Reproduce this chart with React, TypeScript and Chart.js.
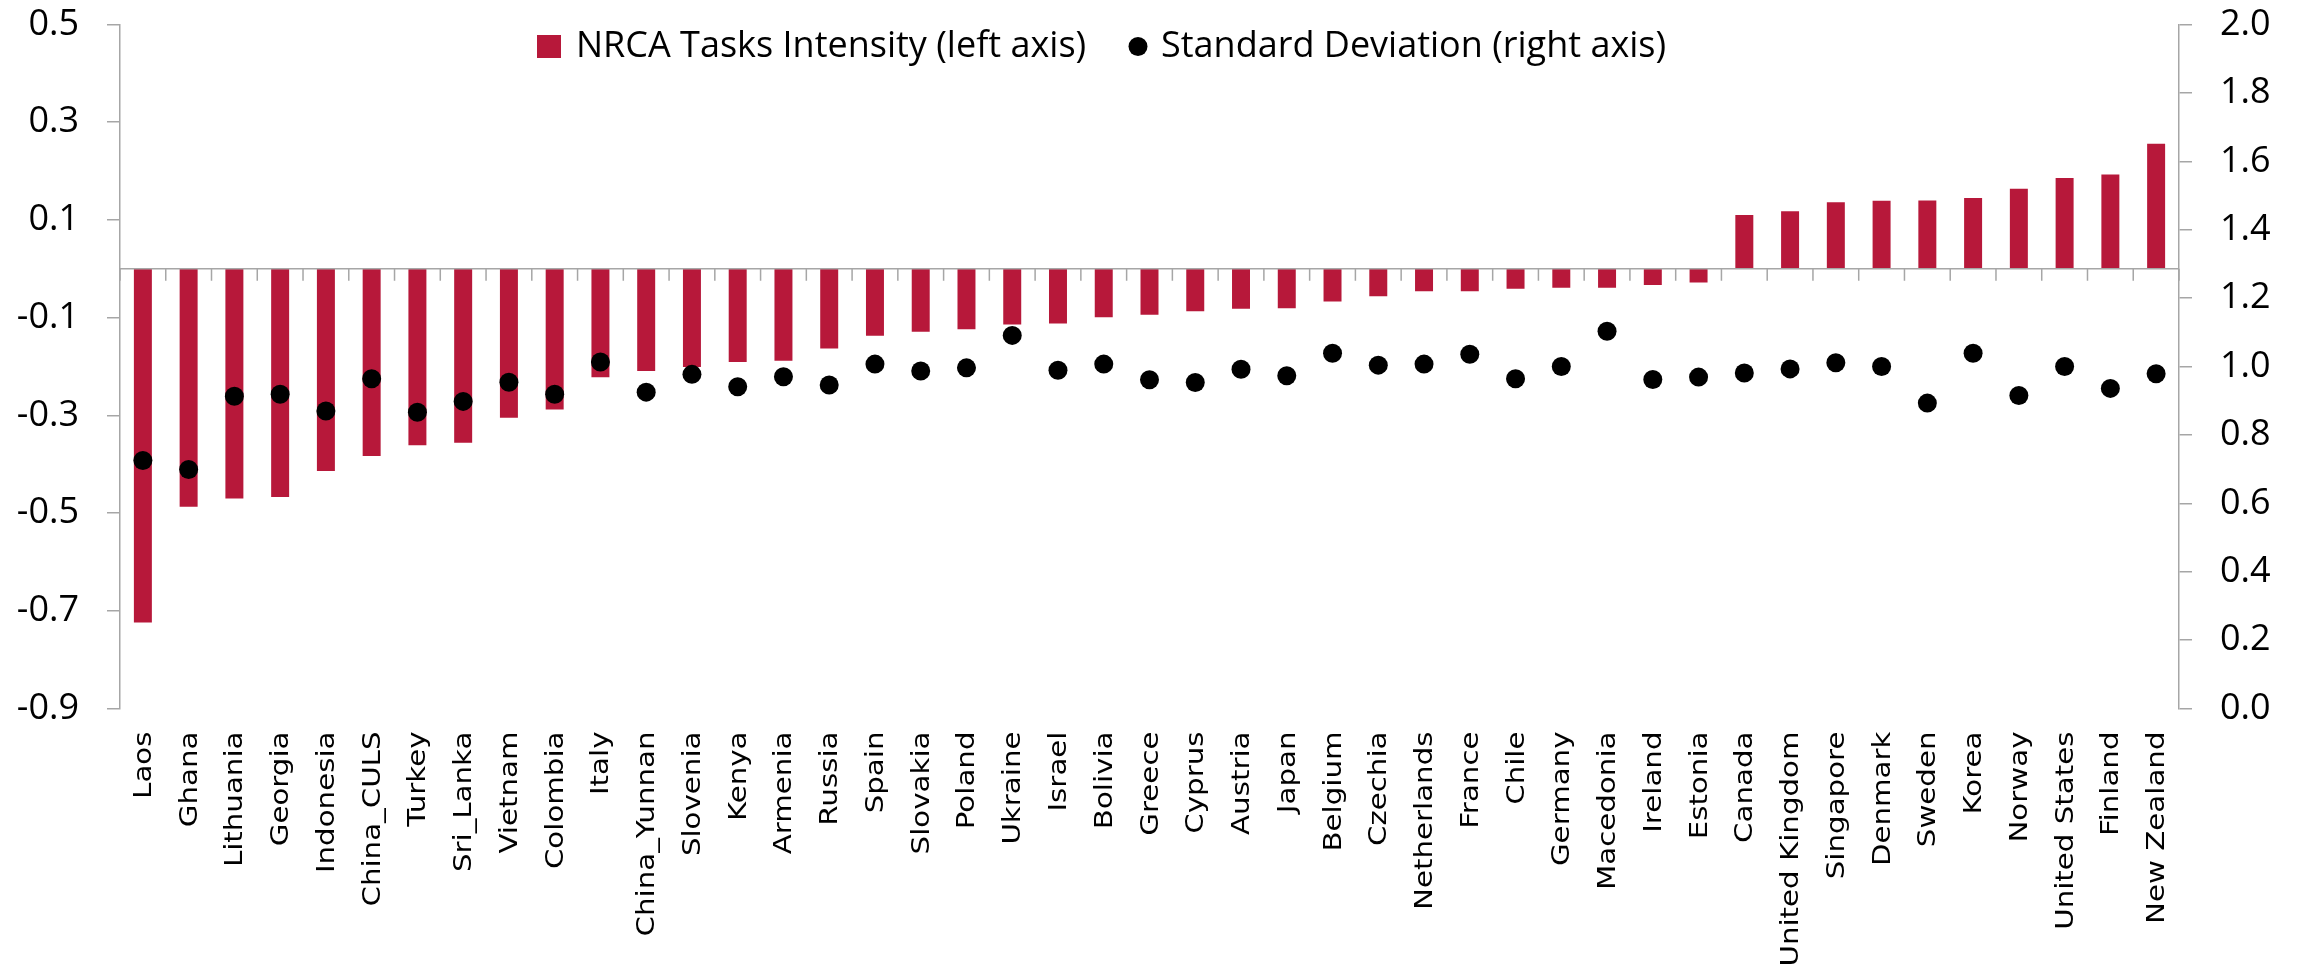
import React, { useEffect, useRef } from 'react';
import { Chart, registerables } from 'chart.js';

Chart.register(...registerables);

const categories = [
  'Laos', 'Ghana', 'Lithuania', 'Georgia', 'Indonesia', 'China_CULS', 'Turkey', 'Sri_Lanka', 'Vietnam',
  'Colombia', 'Italy', 'China_Yunnan', 'Slovenia', 'Kenya', 'Armenia', 'Russia', 'Spain', 'Slovakia',
  'Poland', 'Ukraine', 'Israel', 'Bolivia', 'Greece', 'Cyprus', 'Austria', 'Japan', 'Belgium', 'Czechia',
  'Netherlands', 'France', 'Chile', 'Germany', 'Macedonia', 'Ireland', 'Estonia', 'Canada',
  'United Kingdom', 'Singapore', 'Denmark', 'Sweden', 'Korea', 'Norway', 'United States', 'Finland',
  'New Zealand',
];

const nrcaIntensity = [
  -0.724, -0.487, -0.470, -0.467, -0.414, -0.383, -0.361, -0.356, -0.305, -0.288, -0.222, -0.209,
  -0.201, -0.191, -0.188, -0.163, -0.137, -0.129, -0.124, -0.114, -0.112, -0.099, -0.094, -0.087,
  -0.082, -0.081, -0.067, -0.056, -0.046, -0.046, -0.041, -0.039, -0.039, -0.033, -0.028, 0.110,
  0.118, 0.136, 0.139, 0.140, 0.145, 0.164, 0.186, 0.193, 0.256,
];

const stdDeviation = [
  0.725, 0.699, 0.913, 0.919, 0.870, 0.964, 0.866, 0.898, 0.954, 0.919, 1.013, 0.925, 0.977, 0.941,
  0.970, 0.946, 1.007, 0.987, 0.996, 1.091, 0.989, 1.007, 0.961, 0.953, 0.992, 0.973, 1.039, 1.004,
  1.007, 1.036, 0.964, 1.000, 1.103, 0.962, 0.969, 0.981, 0.993, 1.011, 1.000, 0.893, 1.039, 0.915,
  1.000, 0.936, 0.979,
];

const leftTicks = [-0.9, -0.7, -0.5, -0.3, -0.1, 0.1, 0.3, 0.5];
const rightTicks = [0.0, 0.2, 0.4, 0.6, 0.8, 1.0, 1.2, 1.4, 1.6, 1.8, 2.0];

const seriesLabels = ['NRCA Tasks Intensity (left axis)', 'Standard Deviation (right axis)'];

const W = 2303;
const H = 973;
const BAR_COLOR = '#B7183A';
const AXIS_COLOR = '#A6A6A6';
const TEXT_COLOR = '#000000';
const TICK_FONT = '"Open Sans"';
const LABEL_FONT = '"DejaVu Sans"';

const zeroLinePlugin = {
  id: 'zeroLine',
  afterDatasetsDraw(chart: any) {
    const { ctx, chartArea, scales } = chart;
    const y0 = scales.y.getPixelForValue(0);
    const n = categories.length;
    const step = (chartArea.right - chartArea.left) / n;
    ctx.save();
    ctx.strokeStyle = AXIS_COLOR;
    ctx.lineWidth = 1.5;
    ctx.beginPath();
    ctx.moveTo(chartArea.left, y0);
    ctx.lineTo(chartArea.right, y0);
    for (let i = 0; i <= n; i++) {
      const x = chartArea.left + i * step;
      ctx.moveTo(x, y0);
      ctx.lineTo(x, y0 + 12);
    }
    ctx.stroke();
    ctx.restore();
  },
};

const xLabelPlugin = {
  id: 'xLabels',
  afterDraw(chart: any) {
    const { ctx, chartArea, scales } = chart;
    const labels = chart.data.labels as string[];
    ctx.save();
    ctx.fillStyle = TEXT_COLOR;
    ctx.font = `24px ${LABEL_FONT}`;
    ctx.textAlign = 'right';
    ctx.textBaseline = 'alphabetic';
    const top = chartArea.bottom + 23;
    labels.forEach((lab, i) => {
      const x = scales.x.getPixelForValue(i);
      ctx.save();
      ctx.translate(x + 8, top);
      ctx.rotate(-Math.PI / 2);
      ctx.scale(1.22, 1);
      ctx.fillText(lab, 0, 0);
      ctx.restore();
    });
    ctx.restore();
  },
};

const legendPlugin = {
  id: 'customLegend',
  afterDraw(chart: any) {
    const { ctx } = chart;
    const ds = chart.data.datasets;
    const cy = 46.5;
    ctx.save();
    ctx.font = `36px ${TICK_FONT}`;
    ctx.textBaseline = 'middle';
    ctx.textAlign = 'left';
    ctx.fillStyle = BAR_COLOR;
    ctx.fillRect(537, 35, 24, 23);
    ctx.fillStyle = TEXT_COLOR;
    ctx.fillText(ds[1].label, 576, cy);
    ctx.beginPath();
    ctx.arc(1138, cy, 9.5, 0, Math.PI * 2);
    ctx.fill();
    ctx.fillText(ds[0].label, 1161, cy);
    ctx.restore();
  },
};

export default function App() {
  const ref = useRef<HTMLCanvasElement | null>(null);

  useEffect(() => {
    document.body.style.margin = '0';
    const canvas = ref.current;
    if (!canvas) return;
    const fmt = (v: any) => Number(v).toFixed(1);
    const noPad = (w: number) => (s: any) => {
      s.width = w;
      s.paddingTop = 0;
      s.paddingBottom = 0;
    };
    const tickFont = { family: TICK_FONT, size: 36 };
    const chart = new Chart(canvas, {
      type: 'bar',
      data: {
        labels: categories,
        datasets: [
          {
            type: 'line',
            label: seriesLabels[1],
            data: stdDeviation,
            yAxisID: 'y2',
            showLine: false,
            pointRadius: 9.5,
            pointHoverRadius: 9.5,
            pointBackgroundColor: '#000000',
            pointBorderColor: '#000000',
            pointBorderWidth: 0,
            order: 1,
          } as any,
          {
            type: 'bar',
            label: seriesLabels[0],
            data: nrcaIntensity,
            yAxisID: 'y',
            backgroundColor: BAR_COLOR,
            barPercentage: 0.393,
            categoryPercentage: 1,
            order: 2,
          },
        ],
      },
      options: {
        responsive: false,
        animation: false,
        events: [],
        layout: { padding: { top: 24.5, bottom: 264.5, left: 0, right: 0 } },
        plugins: { legend: { display: false }, tooltip: { enabled: false } },
        scales: {
          x: { type: 'category', display: false, offset: true },
          y: {
            position: 'left',
            min: -0.9,
            max: 0.5,
            afterFit: noPad(120),
            afterBuildTicks: (s: any) => { s.ticks = leftTicks.map((v) => ({ value: v })); },
            ticks: { callback: fmt, font: tickFont, color: TEXT_COLOR, padding: 28, autoSkip: false },
            grid: { drawOnChartArea: false, drawTicks: true, tickLength: 13, color: AXIS_COLOR, lineWidth: 1.5 },
            border: { display: true, color: AXIS_COLOR, width: 1.5 },
          },
          y2: {
            position: 'right',
            min: 0,
            max: 2,
            afterFit: noPad(124),
            afterBuildTicks: (s: any) => { s.ticks = rightTicks.map((v) => ({ value: v })); },
            ticks: { callback: fmt, font: tickFont, color: TEXT_COLOR, padding: 28, autoSkip: false },
            grid: { drawOnChartArea: false, drawTicks: true, tickLength: 13, color: AXIS_COLOR, lineWidth: 1.5 },
            border: { display: true, color: AXIS_COLOR, width: 1.5 },
          },
        },
      } as any,
      plugins: [zeroLinePlugin, xLabelPlugin, legendPlugin],
    });
    if ((document as any).fonts && (document as any).fonts.ready) {
      (document as any).fonts.ready.then(() => { try { chart.update(); } catch (e) { /* ignore */ } });
    }
    return () => { chart.destroy(); };
  }, []);

  return (
    <canvas
      ref={ref}
      width={W}
      height={H}
      style={{ position: 'absolute', left: 0, top: 0, display: 'block' }}
    />
  );
}
